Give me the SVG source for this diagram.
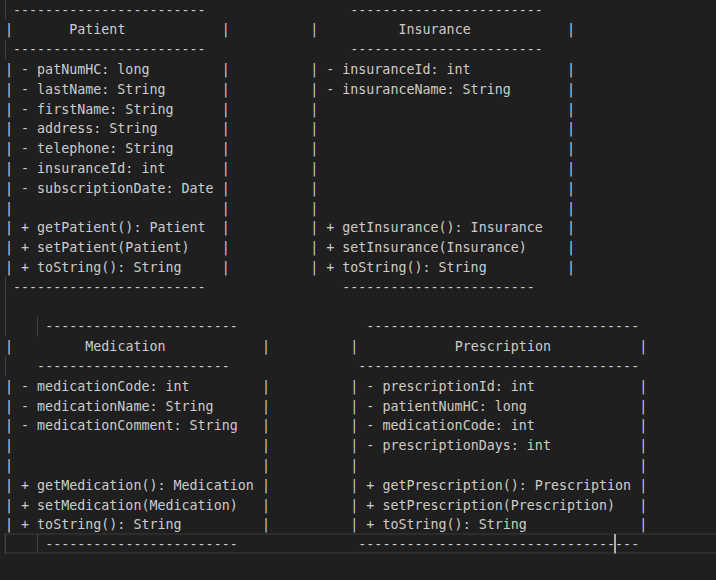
<svg xmlns="http://www.w3.org/2000/svg" width="716" height="580" viewBox="0 0 716 580">
<style>
text{font-family:"DejaVu Sans Mono","Liberation Mono",monospace;font-size:13.34px;fill:#cccccc;white-space:pre}
.guide{stroke:#404040;stroke-width:1}
</style>
<rect x="0" y="0" width="716" height="580" fill="#1f1f1f"/>
<rect x="5" y="534" width="716" height="19" fill="none" stroke="#2c2c2c" stroke-width="2"/>
<g id="indent-guides">
<line class="guide" x1="5.5" y1="0" x2="5.5" y2="19.4"/>
<line class="guide" x1="5.5" y1="39.2" x2="5.5" y2="59"/>
<line class="guide" x1="5.5" y1="276.8" x2="5.5" y2="336.2"/>
<line class="guide" x1="37.5" y1="316.4" x2="37.5" y2="336.2"/>
<line class="guide" x1="5.5" y1="356" x2="5.5" y2="375.8"/>
<line class="guide" x1="5.5" y1="534" x2="5.5" y2="553.5"/>
<line class="guide" x1="37.5" y1="534" x2="37.5" y2="553.5"/>
</g>
<g id="patient">
<text x="13.03" y="14.6">------------------------</text>
<text x="13.03" y="54.2">------------------------</text>
<text x="13.03" y="291.8">------------------------</text>
<text x="69.24" y="34.4">Patient</text>
<text><tspan x="5" y="34.4">|</tspan><tspan x="5" y="74">|</tspan><tspan x="5" y="93.8">|</tspan><tspan x="5" y="113.6">|</tspan><tspan x="5" y="133.4">|</tspan><tspan x="5" y="153.2">|</tspan><tspan x="5" y="173">|</tspan><tspan x="5" y="192.8">|</tspan><tspan x="5" y="212.6">|</tspan><tspan x="5" y="232.4">|</tspan><tspan x="5" y="252.2">|</tspan><tspan x="5" y="272">|</tspan></text>
<text><tspan x="221.81" y="34.4">|</tspan><tspan x="221.81" y="74">|</tspan><tspan x="221.81" y="93.8">|</tspan><tspan x="221.81" y="113.6">|</tspan><tspan x="221.81" y="133.4">|</tspan><tspan x="221.81" y="153.2">|</tspan><tspan x="221.81" y="173">|</tspan><tspan x="221.81" y="192.8">|</tspan><tspan x="221.81" y="212.6">|</tspan><tspan x="221.81" y="232.4">|</tspan><tspan x="221.81" y="252.2">|</tspan><tspan x="221.81" y="272">|</tspan></text>
<text x="21.06" y="74">- patNumHC: long</text>
<text x="21.06" y="93.8">- lastName: String</text>
<text x="21.06" y="113.6">- firstName: String</text>
<text x="21.06" y="133.4">- address: String</text>
<text x="21.06" y="153.2">- telephone: String</text>
<text x="21.06" y="173">- insuranceId: int</text>
<text x="21.06" y="192.8">- subscriptionDate: Date</text>
<text x="21.06" y="232.4">+ getPatient(): Patient</text>
<text x="21.06" y="252.2">+ setPatient(Patient)</text>
<text x="21.06" y="272">+ toString(): String</text>
</g>
<g id="insurance">
<text x="350.29" y="14.6">------------------------</text>
<text x="350.29" y="54.2">------------------------</text>
<text x="342.26" y="291.8">------------------------</text>
<text x="398.47" y="34.4">Insurance</text>
<text><tspan x="310.14" y="34.4">|</tspan><tspan x="310.14" y="74">|</tspan><tspan x="310.14" y="93.8">|</tspan><tspan x="310.14" y="113.6">|</tspan><tspan x="310.14" y="133.4">|</tspan><tspan x="310.14" y="153.2">|</tspan><tspan x="310.14" y="173">|</tspan><tspan x="310.14" y="192.8">|</tspan><tspan x="310.14" y="212.6">|</tspan><tspan x="310.14" y="232.4">|</tspan><tspan x="310.14" y="252.2">|</tspan><tspan x="310.14" y="272">|</tspan></text>
<text><tspan x="567.1" y="34.4">|</tspan><tspan x="567.1" y="74">|</tspan><tspan x="567.1" y="93.8">|</tspan><tspan x="567.1" y="113.6">|</tspan><tspan x="567.1" y="133.4">|</tspan><tspan x="567.1" y="153.2">|</tspan><tspan x="567.1" y="173">|</tspan><tspan x="567.1" y="192.8">|</tspan><tspan x="567.1" y="212.6">|</tspan><tspan x="567.1" y="232.4">|</tspan><tspan x="567.1" y="252.2">|</tspan><tspan x="567.1" y="272">|</tspan></text>
<text x="326.2" y="74">- insuranceId: int</text>
<text x="326.2" y="93.8">- insuranceName: String</text>
<text x="326.2" y="232.4">+ getInsurance(): Insurance</text>
<text x="326.2" y="252.2">+ setInsurance(Insurance)</text>
<text x="326.2" y="272">+ toString(): String</text>
</g>
<g id="medication">
<text x="45.15" y="331.4">------------------------</text>
<text x="37.12" y="371">------------------------</text>
<text x="45.15" y="549.2">------------------------</text>
<text x="85.3" y="351.2">Medication</text>
<text><tspan x="5" y="351.2">|</tspan><tspan x="5" y="390.8">|</tspan><tspan x="5" y="410.6">|</tspan><tspan x="5" y="430.4">|</tspan><tspan x="5" y="450.2">|</tspan><tspan x="5" y="470">|</tspan><tspan x="5" y="489.8">|</tspan><tspan x="5" y="509.6">|</tspan><tspan x="5" y="529.4">|</tspan></text>
<text><tspan x="261.96" y="351.2">|</tspan><tspan x="261.96" y="390.8">|</tspan><tspan x="261.96" y="410.6">|</tspan><tspan x="261.96" y="430.4">|</tspan><tspan x="261.96" y="450.2">|</tspan><tspan x="261.96" y="470">|</tspan><tspan x="261.96" y="489.8">|</tspan><tspan x="261.96" y="509.6">|</tspan><tspan x="261.96" y="529.4">|</tspan></text>
<text x="21.06" y="390.8">- medicationCode: int</text>
<text x="21.06" y="410.6">- medicationName: String</text>
<text x="21.06" y="430.4">- medicationComment: String</text>
<text x="21.06" y="489.8">+ getMedication(): Medication</text>
<text x="21.06" y="509.6">+ setMedication(Medication)</text>
<text x="21.06" y="529.4">+ toString(): String</text>
</g>
<g id="prescription">
<text x="366.35" y="331.4">----------------------------------</text>
<text x="358.32" y="371">-----------------------------------</text>
<text x="358.32" y="549.2">-----------------------------------</text>
<text x="454.68" y="351.2">Prescription</text>
<text><tspan x="350.29" y="351.2">|</tspan><tspan x="350.29" y="390.8">|</tspan><tspan x="350.29" y="410.6">|</tspan><tspan x="350.29" y="430.4">|</tspan><tspan x="350.29" y="450.2">|</tspan><tspan x="350.29" y="470">|</tspan><tspan x="350.29" y="489.8">|</tspan><tspan x="350.29" y="509.6">|</tspan><tspan x="350.29" y="529.4">|</tspan></text>
<text><tspan x="639.37" y="351.2">|</tspan><tspan x="639.37" y="390.8">|</tspan><tspan x="639.37" y="410.6">|</tspan><tspan x="639.37" y="430.4">|</tspan><tspan x="639.37" y="450.2">|</tspan><tspan x="639.37" y="470">|</tspan><tspan x="639.37" y="489.8">|</tspan><tspan x="639.37" y="509.6">|</tspan><tspan x="639.37" y="529.4">|</tspan></text>
<text x="366.35" y="390.8">- prescriptionId: int</text>
<text x="366.35" y="410.6">- patientNumHC: long</text>
<text x="366.35" y="430.4">- medicationCode: int</text>
<text x="366.35" y="450.2">- prescriptionDays: int</text>
<text x="366.35" y="489.8">+ getPrescription(): Prescription</text>
<text x="366.35" y="509.6">+ setPrescription(Prescription)</text>
<text x="366.35" y="529.4">+ toString(): String</text>
</g>
<g id="connectors"/>
<rect x="614" y="534" width="2" height="19.5" fill="#aeafad"/>
</svg>
